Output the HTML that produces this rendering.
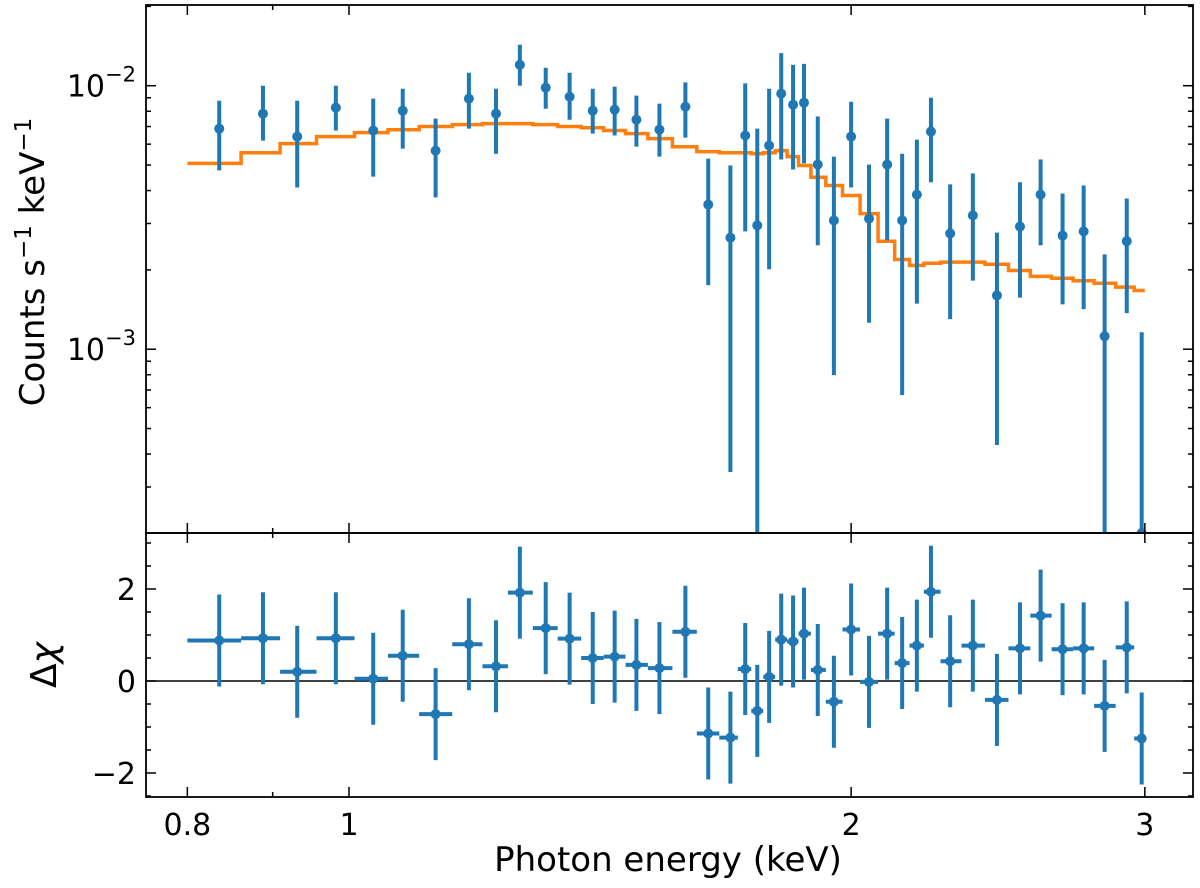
<!DOCTYPE html>
<html><head><meta charset="utf-8"><style>
html,body{margin:0;padding:0;background:#fff;}
svg{display:block;font-family:"DejaVu Sans","Liberation Sans",sans-serif;}
</style></head><body>
<svg id="chart" width="1200" height="888" viewBox="0 0 1200 888" xmlns="http://www.w3.org/2000/svg">
<g id="top-panel"></g>
<g id="bot-panel"></g>
<g id="axes"></g>
<text x="44" y="262" font-size="34" text-anchor="middle" transform="rotate(-90 44 262)">Counts s<tspan dy="-13" font-size="23">−1</tspan><tspan dy="13"> keV</tspan><tspan dy="-13" font-size="23">−1</tspan></text>
<text x="44" y="677" font-size="36" text-anchor="middle" transform="rotate(-90 44 665)">Δ<tspan font-style="italic">χ</tspan></text>
<text x="668" y="871" font-size="34" text-anchor="middle">Photon energy (keV)</text>
</svg>
<script>
const energies=[0.836,0.888,0.931,0.982,1.034,1.077,1.127,1.180,1.225,1.266,1.312,1.356,1.400,1.443,1.487,1.535,1.591,1.642,1.693,1.728,1.757,1.786,1.816,1.846,1.874,1.910,1.953,2.000,2.050,2.102,2.146,2.190,2.233,2.293,2.366,2.446,2.525,2.598,2.678,2.757,2.838,2.926,2.987];
const counts=[6.87e-3,7.83e-3,6.41e-3,8.26e-3,6.76e-3,8.04e-3,5.67e-3,8.93e-3,7.83e-3,1.20e-2,9.83e-3,9.08e-3,8.04e-3,8.11e-3,7.43e-3,6.81e-3,8.32e-3,3.54e-3,2.65e-3,6.47e-3,2.95e-3,5.93e-3,9.33e-3,8.47e-3,8.62e-3,5.02e-3,3.08e-3,6.41e-3,3.13e-3,5.02e-3,3.08e-3,3.86e-3,6.70e-3,2.75e-3,3.22e-3,1.60e-3,2.92e-3,3.86e-3,2.70e-3,2.80e-3,1.12e-3,2.57e-3,1.5e-4];
const countsHi=[8.77e-3,1.0e-2,8.77e-3,1.0e-2,8.93e-3,9.74e-3,7.50e-3,1.12e-2,9.74e-3,1.43e-2,1.17e-2,1.12e-2,9.74e-3,9.91e-3,9.17e-3,8.55e-3,1.03e-2,5.29e-3,4.98e-3,1.02e-2,6.87e-3,9.74e-3,1.33e-2,1.20e-2,1.21e-2,7.64e-3,5.38e-3,8.69e-3,5.02e-3,7.50e-3,5.52e-3,6.24e-3,9.0e-3,4.22e-3,4.65e-3,2.77e-3,4.30e-3,5.25e-3,3.90e-3,4.18e-3,2.29e-3,3.73e-3,1.16e-3];
const countsLo=[4.77e-3,6.19e-3,4.11e-3,6.76e-3,4.52e-3,5.77e-3,3.77e-3,6.87e-3,5.52e-3,1.0e-2,8.18e-3,7.43e-3,6.58e-3,6.47e-3,5.87e-3,5.38e-3,6.35e-3,1.75e-3,3.42e-4,2.80e-3,1e-5,2.01e-3,5.25e-3,4.81e-3,5.07e-3,2.48e-3,7.97e-4,4.11e-3,1.26e-3,2.59e-3,6.70e-4,1.49e-3,4.30e-3,1.30e-3,1.82e-3,4.33e-4,1.57e-3,2.48e-3,1.48e-3,1.42e-3,1e-5,1.37e-3,1e-5];
const model=[5.07e-3,5.57e-3,6.03e-3,6.41e-3,6.64e-3,6.81e-3,7.00e-3,7.12e-3,7.18e-3,7.18e-3,7.12e-3,7.00e-3,6.93e-3,6.76e-3,6.58e-3,6.30e-3,5.87e-3,5.62e-3,5.57e-3,5.57e-3,5.52e-3,5.57e-3,5.67e-3,5.38e-3,4.98e-3,4.49e-3,4.18e-3,3.83e-3,3.27e-3,2.57e-3,2.19e-3,2.08e-3,2.12e-3,2.14e-3,2.14e-3,2.10e-3,1.99e-3,1.89e-3,1.86e-3,1.82e-3,1.78e-3,1.72e-3,1.67e-3];
const residuals=[0.88,0.93,0.2,0.93,0.05,0.55,-0.72,0.8,0.32,1.92,1.15,0.92,0.5,0.53,0.35,0.28,1.07,-1.14,-1.23,0.26,-0.65,0.09,0.90,0.86,1.03,0.24,-0.45,1.12,-0.02,1.03,0.39,0.77,1.94,0.43,0.77,-0.41,0.71,1.42,0.69,0.71,-0.54,0.73,-1.25];
const residualErr=[1,1,1,1,1,1,1,1,1,1,1,1,1,1,1,1,1,1,1,1,1,1,1,1,1,1,1,1,1,1,1,1,1,1,1,1,1,1,1,1,1,1,1];
const xTicksMajor=[0.8,1,2,3];
const xTickLabels=["0.8","1","2","3"];
const xTicksMinor=[0.9];
const rTicksMajor=[-2,0,2];
const rTickLabels=["−2","0","2"];
const eMin=0.8, eMax=3.0;

(function(){
const NS="http://www.w3.org/2000/svg";
const L=146,R=1193,T=5,MID=533,B=797;
const BLUE="#1f77b4",ORANGE="#ff7f0e";
function xs(e){return 349+1668*Math.log10(e);}
function ys(v){const y=85.7-263.5*(Math.log10(v)+2);return Math.max(T,Math.min(MID,y));}
function yr(r){return 681-46*r;}
function mk(tag,attrs,parent){const el=document.createElementNS(NS,tag);for(const k in attrs)el.setAttribute(k,attrs[k]);parent.appendChild(el);return el;}
const topG=document.getElementById('top-panel'),botG=document.getElementById('bot-panel'),ax=document.getElementById('axes');
const n=energies.length;
const edges=[eMin];
for(let i=0;i<n-1;i++)edges.push(Math.sqrt(energies[i]*energies[i+1]));
edges.push(eMax);

const defs=mk('defs',{},document.getElementById('chart'));
const c1=mk('clipPath',{id:'c1'},defs);mk('rect',{x:L,y:T,width:R-L,height:MID-T},c1);
const c2=mk('clipPath',{id:'c2'},defs);mk('rect',{x:L,y:MID,width:R-L,height:B-MID},c2);
topG.setAttribute('clip-path','url(#c1)');botG.setAttribute('clip-path','url(#c2)');

let d='';
for(let i=0;i<n;i++){
  const x0=xs(edges[i]),x1=xs(edges[i+1]),y=ys(model[i]);
  d+=(i===0?'M':'L')+x0.toFixed(1)+','+y.toFixed(1)+' L'+x1.toFixed(1)+','+y.toFixed(1)+' ';
}
const ml=mk('path',{d:d,fill:'none',stroke:ORANGE,'stroke-width':3.5},topG);



for(let i=0;i<n;i++){
  const x=xs(energies[i]);
  const g=mk('g',{},topG);
  
  
  mk('line',{x1:x,x2:x,y1:ys(countsHi[i]),y2:ys(countsLo[i]),stroke:BLUE,'stroke-width':4},g);
  mk('circle',{cx:x,cy:ys(counts[i]),r:5,fill:BLUE},g);
}

const zl=mk('line',{x1:L,x2:R,y1:yr(0),y2:yr(0),stroke:'#000','stroke-width':1.5},botG);



for(let i=0;i<n;i++){
  const x=xs(energies[i]),y=yr(residuals[i]);
  const g=mk('g',{},botG);
  
  
  mk('line',{x1:x,x2:x,y1:yr(residuals[i]+residualErr[i]),y2:yr(residuals[i]-residualErr[i]),stroke:BLUE,'stroke-width':4},g);
  mk('line',{x1:xs(edges[i]),x2:xs(edges[i+1]),y1:y,y2:y,stroke:BLUE,'stroke-width':4},g);
  mk('circle',{cx:x,cy:y,r:5,fill:BLUE},g);
}

const f1=mk('rect',{x:L,y:T,width:R-L,height:MID-T,fill:'none',stroke:'#000','stroke-width':1.8},ax);


const f2=mk('rect',{x:L,y:MID,width:R-L,height:B-MID,fill:'none',stroke:'#000','stroke-width':1.8},ax);



function tick(x1,y1,x2,y2){mk('line',{x1:x1,y1:y1,x2:x2,y2:y2,stroke:'#000','stroke-width':1.5},ax);}
xTicksMajor.forEach((e,i)=>{const x=xs(e);
  tick(x,T,x,T+10);tick(x,MID,x,MID-10);tick(x,MID,x,MID+10);tick(x,B,x,B-10);
  const t=mk('text',{x:x,y:835,'font-size':30,'text-anchor':'middle'},ax);t.textContent=xTickLabels[i];
  
  
});
xTicksMinor.forEach(e=>{const x=xs(e);
  tick(x,T,x,T+5);tick(x,MID,x,MID-5);tick(x,MID,x,MID+5);tick(x,B,x,B-5);});
for(let p=-4;p<=-2;p++){for(let m=1;m<=9;m++){
  const v=m*Math.pow(10,p);const y=85.7-263.5*(Math.log10(v)+2);
  if(y<T+1||y>MID-1)continue;
  const len=m===1?10:5;tick(L,y,L+len,y);tick(R,y,R-len,y);
  if(m===1){const t=mk('text',{x:136,y:y+11,'font-size':30,'text-anchor':'end'},ax);
    
    
    t.innerHTML='10<tspan dy="-15" font-size="21">−'+(-p)+'</tspan>';}
}}
for(let r=-2.5;r<=3.01;r+=0.5){const y=yr(r);if(y>B-1||y<MID+1)continue;
  const major=rTicksMajor.indexOf(r)>=0;const len=major?10:5;tick(L,y,L+len,y);tick(R,y,R-len,y);}
rTicksMajor.forEach((r,i)=>{const t=mk('text',{x:136,y:yr(r)+11,'font-size':30,'text-anchor':'end'},ax);t.textContent=rTickLabels[i];
  
  });
})();
</script>
</body></html>
